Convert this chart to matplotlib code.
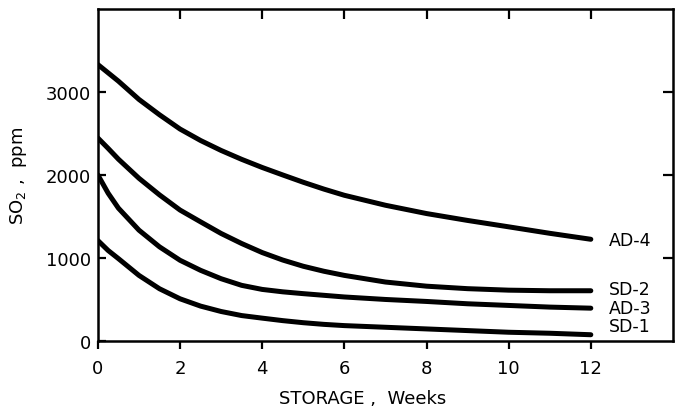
import matplotlib
matplotlib.use("Agg")
import matplotlib.pyplot as plt

weeks = [0, 0.25, 0.5, 1, 1.5, 2, 2.5, 3, 3.5, 4, 4.5, 5, 5.5, 6, 7, 8, 9, 10, 11, 12]
ad4 = [3330, 3230, 3130, 2910, 2725, 2553, 2415, 2295, 2188, 2090, 2000, 1912, 1830, 1755, 1635, 1535, 1452, 1375, 1297, 1225]
sd2 = [2445, 2320, 2190, 1960, 1760, 1577, 1435, 1295, 1174, 1065, 975, 900, 840, 790, 710, 660, 630, 612, 605, 605]
ad3 = [2000, 1780, 1600, 1335, 1134, 972, 851, 750, 670, 621, 592, 570, 550, 530, 500, 476, 448, 428, 408, 395]
sd1 = [1210, 1090, 992, 790, 629, 508, 420, 355, 306, 275, 245, 220, 200, 185, 165, 145, 125, 105, 93, 75]

series = [("AD-4", ad4), ("SD-2", sd2), ("AD-3", ad3), ("SD-1", sd1)]
label_y = {"AD-4": 1215, "SD-2": 620, "AD-3": 400, "SD-1": 180}

xticks = [0, 2, 4, 6, 8, 10, 12]
yticks = [0, 1000, 2000, 3000]

plt.rcParams['font.family'] = ['DejaVu Sans']
fig = plt.figure(figsize=(6.75, 4.14), dpi=100)
ax = fig.add_axes([0.145, 0.174, 0.852, 0.802])

for name, vals in series:
    ax.plot(weeks, vals, color='black', lw=3.6, solid_capstyle='round', solid_joinstyle='round')
    ax.text(12.45, label_y[name], name, fontsize=12.5, va='center', ha='left')

ax.set_xlim(0, 14)
ax.set_ylim(0, 4000)
ax.set_xticks(xticks)
ax.set_yticks(yticks)
ax.set_xticklabels([str(t) for t in xticks])
ax.set_yticklabels([str(t) for t in yticks])

for s in ax.spines.values():
    s.set_linewidth(1.8)

ax.tick_params(axis='x', direction='out', length=6, width=1.6, labelsize=13, pad=7, top=False)
ax.tick_params(axis='y', direction='in', length=6, width=1.6, labelsize=13, pad=5, right=False)

# top inward ticks and right inward ticks
sec_x = ax.secondary_xaxis('top')
sec_x.set_xticks([2, 4, 6, 8, 10, 12])
sec_x.tick_params(direction='in', length=7, width=1.6, labeltop=False)
sec_x.spines['top'].set_visible(False)
sec_y = ax.secondary_yaxis('right')
sec_y.set_yticks([1000, 2000, 3000])
sec_y.tick_params(direction='in', length=7, width=1.6, labelright=False)
sec_y.spines['right'].set_visible(False)

ax.set_xlabel("STORAGE ,  Weeks", fontsize=13)
ax.xaxis.set_label_coords(0.46, -0.145)
ax.set_ylabel("SO$_2$ ,  ppm", fontsize=13, labelpad=12)

fig.savefig("out.png", dpi=100)
